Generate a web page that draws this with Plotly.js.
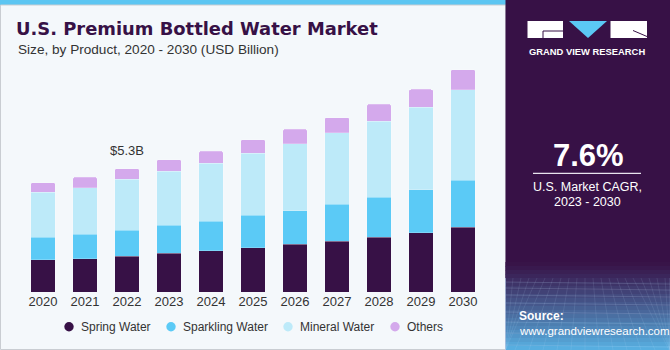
<!DOCTYPE html>
<html>
<head>
<meta charset="utf-8">
<script src="https://cdn.plot.ly/plotly-3.0.1.min.js"></script>
<style>html,body{margin:0;padding:0;background:#f4f8fb;}#chart{width:670px;height:350px;}</style>
</head>
<body>
<div id="chart"></div>
<script>
// ---- Data ----
const years = ['2020','2021','2022','2023','2024','2025','2026','2027','2028','2029','2030'];
const springWater    = [1.38, 1.43, 1.55, 1.66, 1.78, 1.90, 2.05, 2.19, 2.36, 2.55, 2.79];
const sparklingWater = [0.99, 1.06, 1.12, 1.22, 1.28, 1.41, 1.46, 1.59, 1.73, 1.85, 2.02];
const mineralWater   = [1.93, 2.00, 2.18, 2.32, 2.48, 2.67, 2.88, 3.08, 3.28, 3.56, 3.91];
const othersWater    = [0.41, 0.45, 0.46, 0.50, 0.53, 0.58, 0.62, 0.66, 0.73, 0.77, 0.86];
const seriesNames = ['Spring Water', 'Sparkling Water', 'Mineral Water', 'Others'];
const calloutYear = '2022';
const calloutLabel = '$5.3B';
const cagrValue = '7.6%';
const cagrLabel1 = 'U.S. Market CAGR,';
const cagrLabel2 = '2023 - 2030';

// ---- Styles ----
const colors = ['#371146', '#5bcaf6', '#bdeaf9', '#d4a9ec'];
const W = 670, H = 350;
const M = {l: 22, r: 186, t: 60, b: 58};
const PW = W - M.l - M.r, PH = H - M.t - M.b;
const px = p => (p - M.l) / PW;
const py = p => (H - M.b - p) / PH;
const FONT = 'Liberation Sans, Arial, sans-serif';

const seriesData = [springWater, sparklingWater, mineralWater, othersWater];
const traces = seriesData.map((vals, i) => ({
  type: 'bar', x: years, y: vals, name: seriesNames[i],
  marker: {color: colors[i], line: {color: 'rgba(255,255,255,0.35)', width: 0.6}},
  showlegend: false, hoverinfo: 'x+y+name'
}));

const shapes = [];
const annotations = [];

// top blue band & chart border
shapes.push({type:'rect', xref:'paper', yref:'paper', x0:px(0), x1:px(506), y0:py(0), y1:py(5), fillcolor:'#5cc6f2', line:{width:0}, layer:'below'});
shapes.push({type:'rect', xref:'paper', yref:'paper', x0:px(0.5), x1:px(506), y0:py(5), y1:py(349.5), fillcolor:'rgba(0,0,0,0)', line:{color:'#c9cdd2', width:1}, layer:'below'});

// right panel
shapes.push({type:'rect', xref:'paper', yref:'paper', x0:px(505.5), x1:px(670), y0:py(0), y1:py(350), fillcolor:'#371146', line:{width:0}, layer:'below'});
// gradient at bottom of panel
const c0 = [55,17,70], c1 = [88,178,228];
const gTop = 262, gBot = 350, nStrips = 22;
for (let k = 0; k < nStrips; k++) {
  const y0 = gTop + (gBot - gTop) * k / nStrips;
  const y1 = gTop + (gBot - gTop) * (k + 1) / nStrips;
  const t = Math.pow((k + 0.5) / nStrips, 1.1);
  const c = c0.map((v, j) => Math.round(v + (c1[j] - v) * t));
  shapes.push({type:'rect', xref:'paper', yref:'paper', x0:px(505.5), x1:px(670), y0:py(y0), y1:py(y1 + 0.5), fillcolor:`rgb(${c[0]},${c[1]},${c[2]})`, line:{width:0}, layer:'below'});
}
// faint perspective grid
const hLines = [282, 288, 295, 303, 312, 322, 333, 345];
hLines.forEach(y => shapes.push({type:'line', xref:'paper', yref:'paper', x0:px(505.5), x1:px(670), y0:py(y), y1:py(y + 2), line:{color:'rgba(200,225,255,0.22)', width:0.8}, layer:'below'}));
for (let k = -6; k <= 22; k++) {
  const xt = 505 + k * 8, xb = 505 + k * 14 - 60;
  shapes.push({type:'line', xref:'paper', yref:'paper', x0:px(Math.max(505.5, Math.min(670, xt))), x1:px(Math.max(505.5, Math.min(670, xb))), y0:py(278), y1:py(350), line:{color:'rgba(200,225,255,0.16)', width:0.7}, layer:'below'});
}

// logo
shapes.push({type:'rect', xref:'paper', yref:'paper', x0:px(527.5), x1:px(563), y0:py(21), y1:py(38), fillcolor:'#ffffff', line:{width:0}});
shapes.push({type:'path', xref:'paper', yref:'paper', path:`M ${px(543)} ${py(38)} L ${px(543)} ${py(31)} L ${px(563)} ${py(31)}`, line:{color:'#371146', width:1}});
shapes.push({type:'path', xref:'paper', yref:'paper', path:`M ${px(569)} ${py(21)} L ${px(607)} ${py(21)} L ${px(588)} ${py(38)} Z`, fillcolor:'#5bc8f5', line:{width:0}});
shapes.push({type:'rect', xref:'paper', yref:'paper', x0:px(610.5), x1:px(647), y0:py(21), y1:py(38), fillcolor:'#ffffff', line:{width:0}});
shapes.push({type:'line', xref:'paper', yref:'paper', x0:px(633), x1:px(647), y0:py(30.5), y1:py(36.5), line:{color:'#371146', width:1}});
annotations.push({xref:'paper', yref:'paper', x:px(586.5), y:py(51.5), text:'<b>GRAND VIEW RESEARCH</b>', showarrow:false, xanchor:'center', yanchor:'middle', font:{family:FONT, size:9.4, color:'#ffffff'}});

// CAGR
annotations.push({xref:'paper', yref:'paper', x:px(588), y:py(155.5), text:'<b>' + cagrValue + '</b>', showarrow:false, xanchor:'center', yanchor:'middle', font:{family:FONT, size:31, color:'#ffffff'}});
shapes.push({type:'line', xref:'paper', yref:'paper', x0:px(533), x1:px(641), y0:py(173.3), y1:py(173.3), line:{color:'#e8e4ee', width:1.2}});
annotations.push({xref:'paper', yref:'paper', x:px(587), y:py(187), text:cagrLabel1, showarrow:false, xanchor:'center', yanchor:'middle', font:{family:FONT, size:12.5, color:'#ffffff'}});
annotations.push({xref:'paper', yref:'paper', x:px(587), y:py(201.5), text:cagrLabel2, showarrow:false, xanchor:'center', yanchor:'middle', font:{family:FONT, size:12.5, color:'#ffffff'}});

// source
annotations.push({xref:'paper', yref:'paper', x:px(517), y:py(315.5), text:'<b>Source:</b>', showarrow:false, xanchor:'left', yanchor:'middle', font:{family:FONT, size:12, color:'#ffffff'}});
annotations.push({xref:'paper', yref:'paper', x:px(517), y:py(330.5), text:'www.grandviewresearch.com', showarrow:false, xanchor:'left', yanchor:'middle', font:{family:FONT, size:11.5, color:'#ffffff'}});

// subtitle
annotations.push({xref:'paper', yref:'paper', x:px(16), y:py(49.5), text:'Size, by Product, 2020 - 2030 (USD Billion)', showarrow:false, xanchor:'left', yanchor:'middle', font:{family:FONT, size:13.6, color:'#333333'}});

// callout on 2022 bar
const ci = years.indexOf(calloutYear);
const calloutTotal = springWater[ci] + sparklingWater[ci] + mineralWater[ci] + othersWater[ci];
annotations.push({xref:'x', yref:'y', x:ci, y:calloutTotal, text:calloutLabel, showarrow:false, xanchor:'center', yanchor:'bottom', yshift:9, font:{family:FONT, size:13, color:'#333333'}});

// manual legend (circle markers)
const legX = [69, 171, 288, 395];
const legY = 326.7;
seriesNames.forEach((nm, i) => {
  shapes.push({type:'circle', xref:'paper', yref:'paper', xsizemode:'pixel', ysizemode:'pixel', xanchor:px(legX[i]), yanchor:py(legY), x0:-4.7, x1:4.7, y0:-4.7, y1:4.7, fillcolor:colors[i], line:{width:0}});
  annotations.push({xref:'paper', yref:'paper', x:px(legX[i] + 10), y:py(legY), text:nm, showarrow:false, xanchor:'left', yanchor:'middle', font:{family:FONT, size:12, color:'#333333'}});
});

const layout = {
  width: W, height: H,
  margin: M,
  paper_bgcolor: '#f4f8fb', plot_bgcolor: '#f4f8fb',
  barmode: 'stack', bargap: 0.42, barcornerradius: 2,
  title: {text: '<b>U.S. Premium Bottled Water Market</b>', xref:'container', yref:'container', x: 16/W, xanchor:'left', y: 1 - 28.5/H, yanchor:'middle', font:{family:'DejaVu Sans, sans-serif', size:17.9, color:'#371146'}},
  xaxis: {type:'category', range:[-0.5, years.length - 0.5], autorange:false, showgrid:false, zeroline:false, showline:false, ticks:'', automargin:false, tickfont:{family:FONT, size:13, color:'#333333'}, fixedrange:true},
  yaxis: {range:[0, 10], autorange:false, visible:false, automargin:false, fixedrange:true},
  showlegend: false,
  shapes: shapes,
  annotations: annotations
};

Plotly.newPlot('chart', traces, layout, {displayModeBar:false, staticPlot:true});
</script>
</body>
</html>
